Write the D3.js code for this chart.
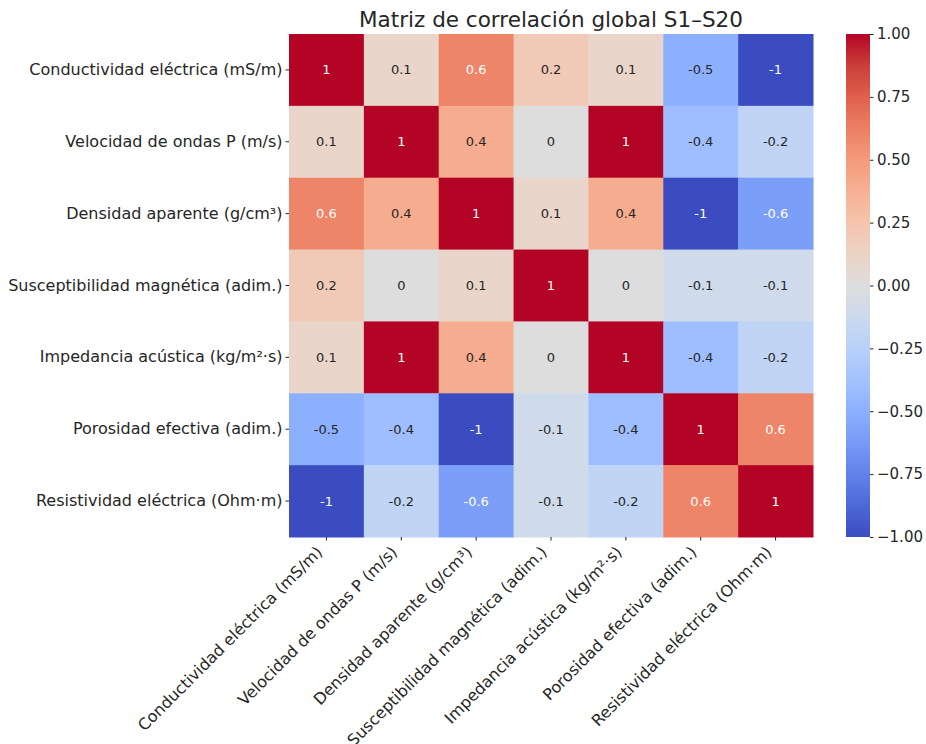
<!DOCTYPE html>
<html>
<head>
<meta charset="utf-8">
<script src="https://cdn.jsdelivr.net/npm/d3@7"></script>
<style>
	body { margin: 0; background: #fff; }
	text { font-family: "DejaVu Sans", sans-serif; fill: #262626; }
</style>
</head>
<body>
<script>
/* correlation heatmap, coolwarm palette */

var variables = [
	"Conductividad eléctrica (mS/m)",
	"Velocidad de ondas P (m/s)",
	"Densidad aparente (g/cm³)",
	"Susceptibilidad magnética (adim.)",
	"Impedancia acústica (kg/m²·s)",
	"Porosidad efectiva (adim.)",
	"Resistividad eléctrica (Ohm·m)"
];

var corr = [
	[1, 0.1, 0.6, 0.2, 0.1, -0.5, -1],
	[0.1, 1, 0.4, 0, 1, -0.4, -0.2],
	[0.6, 0.4, 1, 0.1, 0.4, -1, -0.6],
	[0.2, 0, 0.1, 1, 0, -0.1, -0.1],
	[0.1, 1, 0.4, 0, 1, -0.4, -0.2],
	[-0.5, -0.4, -1, -0.1, -0.4, 1, 0.6],
	[-1, -0.2, -0.6, -0.1, -0.2, 0.6, 1]
];

var colorbarTicks = [-1, -0.75, -0.5, -0.25, 0, 0.25, 0.5, 0.75, 1];

var title = "Matriz de correlación global S1–S20";

// coolwarm (Moreland) control points
var coolwarmStops = ["#3b4cc0", "#4d68d7", "#6282ea", "#779af7", "#8db0fe", "#a3c2ff",
	"#b8d0f9", "#ccd9ee", "#dddddd", "#ecd3c5", "#f5c4ad", "#f7b194", "#f49a7b",
	"#ec7f63", "#de604d", "#cb3e38", "#b40426"];

var width = 926, height = 744;
var margin = {left: 289, top: 34};
var gridW = 524, gridH = 503;

var svg = d3.select("body").append("svg")
	.attr("width", width)
	.attr("height", height);

var x = d3.scaleBand().domain(d3.range(variables.length)).range([margin.left, margin.left + gridW]);
var y = d3.scaleBand().domain(d3.range(variables.length)).range([margin.top, margin.top + gridH]);

var color = d3.scaleLinear()
	.domain(d3.range(coolwarmStops.length).map(function(i) { return -1 + 2 * i / (coolwarmStops.length - 1); }))
	.range(coolwarmStops)
	.interpolate(d3.interpolateRgb)
	.clamp(true);

// same rule seaborn uses to pick annotation colour
function luminance(c) {
	var rgb = d3.rgb(c);
	var lin = [rgb.r, rgb.g, rgb.b].map(function(v) {
		v = v / 255;
		return v <= 0.03928 ? v / 12.92 : Math.pow((v + 0.055) / 1.055, 2.4);
	});
	return 0.2126 * lin[0] + 0.7152 * lin[1] + 0.0722 * lin[2];
}

var cells = [];
corr.forEach(function(row, i) {
	row.forEach(function(v, j) { cells.push({i: i, j: j, v: v}); });
});

svg.selectAll(".cell")
	.data(cells)
	.enter().append("rect")
		.attr("class", "cell")
		.attr("x", function(d) { return x(d.j); })
		.attr("y", function(d) { return y(d.i); })
		.attr("width", x.bandwidth() + 0.5)
		.attr("height", y.bandwidth() + 0.5)
		.attr("fill", function(d) { return color(d.v); });

svg.selectAll(".annot")
	.data(cells)
	.enter().append("text")
		.attr("class", "annot")
		.attr("x", function(d) { return x(d.j) + x.bandwidth() / 2; })
		.attr("y", function(d) { return y(d.i) + y.bandwidth() / 2; })
		.attr("dy", "0.35em")
		.attr("text-anchor", "middle")
		.style("font-size", "13px")
		.style("fill", function(d) { return luminance(color(d.v)) > 0.408 ? "#262626" : "#ffffff"; })
		.text(function(d) { return d.v; });

// axes
var yAxis = d3.axisLeft(y).tickSize(3.5).tickPadding(3).tickFormat(function(i) { return variables[i]; });
var gy = svg.append("g").attr("transform", "translate(" + margin.left + ",0)").call(yAxis);
gy.select(".domain").remove();
gy.selectAll("line").attr("stroke", "#262626");
gy.selectAll("text").style("font-size", "16px").style("fill", "#262626");

var xAxis = d3.axisBottom(x).tickSize(3.5).tickFormat(function(i) { return variables[i]; });
var gx = svg.append("g").attr("transform", "translate(0," + (margin.top + gridH) + ")").call(xAxis);
gx.select(".domain").remove();
gx.selectAll("line").attr("stroke", "#262626");
gx.selectAll("text")
	.style("font-size", "16px")
	.style("fill", "#262626")
	.attr("text-anchor", "end")
	.attr("y", 0)
	.attr("dy", 0)
	.attr("transform", "translate(-3,16) rotate(-45)");

// title
svg.append("text")
	.attr("x", margin.left + gridW / 2)
	.attr("y", 27)
	.attr("text-anchor", "middle")
	.style("font-size", "21.5px")
	.text(title);

// colorbar
var cbX = 846, cbW = 24;
var cbScale = d3.scaleLinear().domain([-1, 1]).range([margin.top + gridH, margin.top]);

var defs = svg.append("defs");
var grad = defs.append("linearGradient")
	.attr("id", "cbgrad")
	.attr("x1", 0).attr("y1", 1).attr("x2", 0).attr("y2", 0);
grad.selectAll("stop")
	.data(coolwarmStops)
	.enter().append("stop")
		.attr("offset", function(d, i) { return i / (coolwarmStops.length - 1); })
		.attr("stop-color", function(d) { return d; });

svg.append("rect")
	.attr("x", cbX)
	.attr("y", margin.top)
	.attr("width", cbW)
	.attr("height", gridH)
	.attr("fill", "url(#cbgrad)");

var cbAxis = d3.axisRight(cbScale).tickValues(colorbarTicks).tickSize(3.5).tickPadding(3.5).tickFormat(d3.format(".2f"));
var gc = svg.append("g").attr("transform", "translate(" + (cbX + cbW) + ",0)").call(cbAxis);
gc.select(".domain").remove();
gc.selectAll("line").attr("stroke", "#262626");
gc.selectAll("text").style("font-size", "15px").style("fill", "#262626");
</script>
</body>
</html>
